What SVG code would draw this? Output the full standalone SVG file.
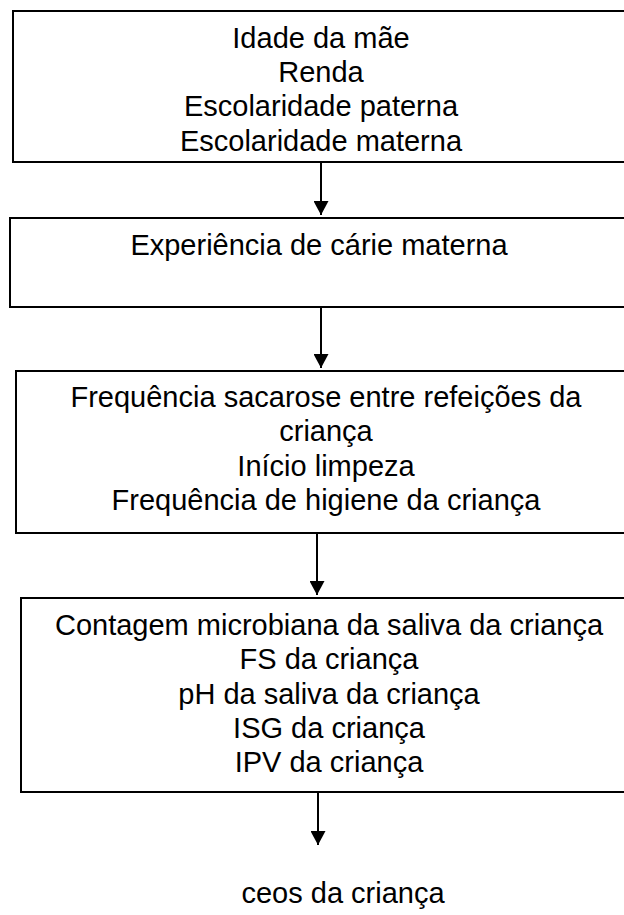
<svg xmlns="http://www.w3.org/2000/svg" width="624" height="915" viewBox="0 0 624 915">
<defs>
<style>
.box{fill:#fff;stroke:#000;stroke-width:2}
.t{font-family:"Liberation Sans",Arial,sans-serif;font-size:29px;fill:#000;text-anchor:middle}
.c{stroke:#000;stroke-width:2;fill:none}
</style>
<marker id="ah" markerWidth="16" markerHeight="15" refX="15" refY="8" orient="auto" markerUnits="userSpaceOnUse" viewBox="0 0 15 16">
<path d="M0,0 L15,8 L0,16 Z" fill="#000"/>
</marker>
</defs>
<rect width="624" height="915" fill="#fff"/>
<g id="node1">
<rect class="box" x="13" y="11" width="630" height="151"/>
<text class="t" x="321" y="48">Idade da mãe</text>
<text class="t" x="321" y="82">Renda</text>
<text class="t" x="321" y="116">Escolaridade paterna</text>
<text class="t" x="321" y="151">Escolaridade materna</text>
</g>
<g id="node2">
<rect class="box" x="10" y="218" width="640" height="89"/>
<text class="t" x="319" y="255">Experiência de cárie materna</text>
</g>
<g id="node3">
<rect class="box" x="16" y="371" width="640" height="162"/>
<text class="t" x="326" y="407">Frequência sacarose entre refeições da</text>
<text class="t" x="326" y="441">criança</text>
<text class="t" x="326" y="476">Início limpeza</text>
<text class="t" x="326" y="510">Frequência de higiene da criança</text>
</g>
<g id="node4">
<rect class="box" x="21" y="598" width="640" height="194"/>
<text class="t" x="329" y="635">Contagem microbiana da saliva da criança</text>
<text class="t" x="329" y="669">FS da criança</text>
<text class="t" x="329" y="704">pH da saliva da criança</text>
<text class="t" x="329" y="738">ISG da criança</text>
<text class="t" x="329" y="772">IPV da criança</text>
</g>
<g id="node5">
<text class="t" x="343" y="903">ceos da criança</text>
</g>
<g id="connectors">
<line class="c" x1="321" y1="163" x2="321" y2="215" marker-end="url(#ah)"/>
<line class="c" x1="321" y1="308" x2="321" y2="368" marker-end="url(#ah)"/>
<line class="c" x1="317" y1="534" x2="317" y2="595" marker-end="url(#ah)"/>
<line class="c" x1="318" y1="793" x2="318" y2="845" marker-end="url(#ah)"/>
</g>
</svg>
